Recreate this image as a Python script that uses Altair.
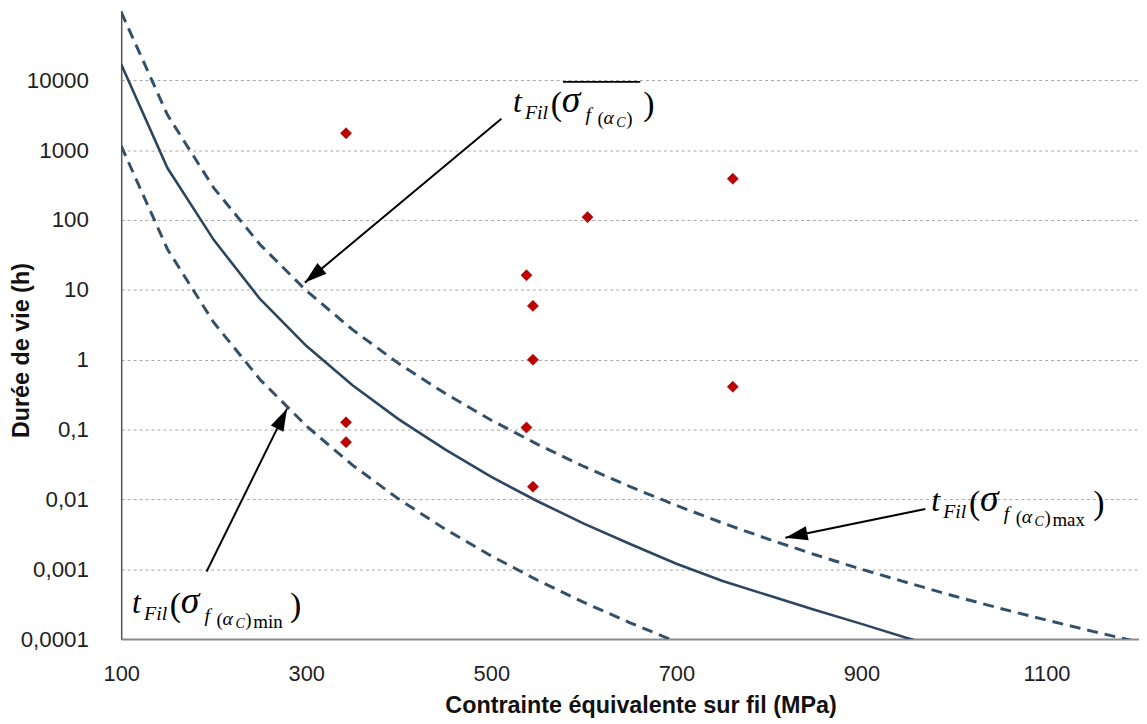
import math
import altair as alt
import pandas as pd

# ---------------- data ----------------
stress_mean = [100, 150, 200, 250, 300, 350, 400, 450, 500, 550, 600, 650, 700, 750, 800, 850, 900, 950, 1000]
life_mean = [17000, 555, 52, 7.4, 1.58, 0.43, 0.14, 0.052, 0.021, 0.0094, 0.0045, 0.0023,
             0.0012, 0.00068, 0.00042, 0.00026, 0.000165, 0.000103, 0.000066]

stress_max = [100, 150, 200, 250, 300, 350, 400, 450, 500, 550, 600, 650, 700, 750, 800, 850,
              900, 950, 1000, 1050, 1100, 1150, 1200]
life_max = [95000, 3200, 289, 44.7, 9.75, 2.69, 0.88, 0.33, 0.136, 0.0614, 0.0296, 0.0152,
            0.0082, 0.00459, 0.00268, 0.00161, 0.001, 0.00064, 0.000414, 0.000275, 0.000187,
            0.000129, 0.0000903]

stress_min = [100, 150, 200, 250, 300, 350, 400, 450, 500, 550, 600, 650, 700]
life_min = [1150, 38.2, 3.41, 0.522, 0.113, 0.0309, 0.0101, 0.00375, 0.00155, 0.000696,
            0.000335, 0.000171, 0.0000915]

obs_stress = [343, 343, 343, 538, 545, 545, 538, 545, 604, 761, 761]
obs_life = [1750, 0.127, 0.066, 16.2, 5.9, 1.0, 0.107, 0.0152, 110, 390, 0.41]

x_ticks = [100, 300, 500, 700, 900, 1100]
y_ticks = [0.0001, 0.001, 0.01, 0.1, 1, 10, 100, 1000, 10000]

# annotation anchors (data units): label baseline start, arrow start and arrow tip
ann_names = ["mean", "min", "max"]
ann_x = [523.5, 111.8, 975.5]
ann_t = [3550, 0.000234, 0.00683]
ann_sub = ["", "min", "max"]
arrow_x1 = [510.9, 192.3, 969.1]
arrow_t1 = [2825, 0.000927, 0.0073]
arrow_x2 = [298.5, 279.2, 817.8]
arrow_t2 = [12.7, 0.199, 0.00282]
overline_x = [577.5, 661.0]
overline_t = [9480]

# ---------------- layout ----------------
W, H = 1025, 633
XMIN, XMAX = 100, 1200
YMIN, YMAX = 1e-4, 1e5

xs = alt.Scale(domain=[XMIN, XMAX], nice=False, zero=False)
ys = alt.Scale(type="log", domain=[YMIN, YMAX], nice=False)


def px(x):
    return (x - XMIN) / (XMAX - XMIN) * W


def py(t):
    return H * (math.log10(YMAX) - math.log10(t)) / (math.log10(YMAX) - math.log10(YMIN))


LABEL_FONT = "Liberation Sans"
MATH_FONT = "Liberation Serif"

x_axis = alt.Axis(
    values=x_ticks, title="Contrainte équivalente sur fil (MPa)", ticks=False,
    labelPadding=25, labelFontSize=22, labelFont=LABEL_FONT, labelColor="#1e1e1e",
    labelFlush=False, format="d",
    domainColor="#8a8a8a", domainWidth=2, grid=False,
    titleFont=LABEL_FONT, titleFontSize=23.5, titleFontWeight="bold", titleColor="#111111",
    titleX=523, titleY=55, titleBaseline="top", titleAlign="center",
)
y_axis = alt.Axis(
    values=y_ticks, title="Durée de vie (h)", ticks=False,
    labelExpr="datum.value >= 1 ? format(datum.value, 'd') : replace(format(datum.value, '~g'), '.', ',')",
    labelPadding=33, labelFontSize=22.5, labelFont=LABEL_FONT, labelColor="#1e1e1e",
    labelOverlap=False,
    domainColor="#555555", domainWidth=1.5,
    grid=True, gridDash=[3, 3], gridColor="#a6a6a6", gridWidth=1,
    titleFont=LABEL_FONT, titleFontSize=23.5, titleFontWeight="bold", titleColor="#111111",
    titleAngle=270, titleX=-93, titleY=342, titleBaseline="alphabetic", titleAlign="center",
)

layers = []

# solid mean curve (carries the axes)
df_mean = pd.DataFrame({"stress": stress_mean, "life": life_mean})
layers.append(
    alt.Chart(df_mean).mark_line(color="#2c4660", strokeWidth=2.6, clip=True).encode(
        x=alt.X("stress:Q", scale=xs, axis=x_axis),
        y=alt.Y("life:Q", scale=ys, axis=y_axis),
    )
)

df_max = pd.DataFrame({"stress": stress_max, "life": life_max})
layers.append(
    alt.Chart(df_max).mark_line(color="#33506a", strokeWidth=3, strokeDash=[11, 7], clip=True).encode(
        x=alt.X("stress:Q", scale=xs, axis=x_axis),
        y=alt.Y("life:Q", scale=ys, axis=y_axis),
    )
)
df_min = pd.DataFrame({"stress": stress_min, "life": life_min})
layers.append(
    alt.Chart(df_min).mark_line(color="#33506a", strokeWidth=3, strokeDash=[11, 7], clip=True).encode(
        x=alt.X("stress:Q", scale=xs, axis=x_axis),
        y=alt.Y("life:Q", scale=ys, axis=y_axis),
    )
)

df_obs = pd.DataFrame({"stress": obs_stress, "life": obs_life})
layers.append(
    alt.Chart(df_obs).mark_point(shape="diamond", filled=True, size=125, color="#c00000",
                                 stroke="#8b0000", strokeWidth=0.6, opacity=1).encode(
        x=alt.X("stress:Q", scale=xs, axis=x_axis),
        y=alt.Y("life:Q", scale=ys, axis=y_axis),
    )
)

# arrows
df_arrows = pd.DataFrame({"stress": arrow_x1, "life": arrow_t1, "x2": arrow_x2, "t2": arrow_t2})
layers.append(
    alt.Chart(df_arrows).mark_rule(color="black", strokeWidth=2).encode(
        x=alt.X("stress:Q", scale=xs, axis=x_axis),
        y=alt.Y("life:Q", scale=ys, axis=y_axis),
        x2="x2:Q",
        y2="t2:Q",
    )
)
head_path = "M0,0L-0.38,1.2L0.38,1.2Z"
for i in range(len(ann_names)):
    ddx = px(arrow_x2[i]) - px(arrow_x1[i])
    ddy = py(arrow_t2[i]) - py(arrow_t1[i])
    ang = math.degrees(math.atan2(ddx, -ddy)) % 360
    d = pd.DataFrame({"stress": [arrow_x2[i]], "life": [arrow_t2[i]]})
    layers.append(
        alt.Chart(d).mark_point(shape=head_path, filled=True, size=1400, color="black",
                                opacity=1, angle=ang, strokeWidth=0).encode(
            x=alt.X("stress:Q", scale=xs, axis=x_axis),
            y=alt.Y("life:Q", scale=ys, axis=y_axis),
        )
    )


# math labels built from glyph pieces: (text, dx, dy, size, italic)
def pieces(sub):
    p = [
        ("t", 0, 0, 32, True),
        ("Fil", 12, 7, 20, True),
        ("(", 38, 3, 34, False),
        ("σ", 49, 0, 38, True),
        ("f", 73, 9, 20, True),
        ("(", 85, 13, 19, False),
        ("α", 91, 12, 20, True),
        ("C", 104, 15, 14, True),
        (")", 114, 13, 19, False),
    ]
    if sub == "":
        p.append((")", 131, 3, 34, False))
    else:
        p.append((sub, 122, 15, 19, False))
        p.append((")", 159 if sub == "min" else 163, 3, 34, False))
    return p


for i in range(len(ann_names)):
    d = pd.DataFrame({"stress": [ann_x[i]], "life": [ann_t[i]]})
    for (txt, dx, dy, size, italic) in pieces(ann_sub[i]):
        layers.append(
            alt.Chart(d).mark_text(
                text=txt, dx=dx, dy=dy, fontSize=size, font=MATH_FONT,
                fontStyle="italic" if italic else "normal",
                align="left", baseline="alphabetic", color="black",
            ).encode(
                x=alt.X("stress:Q", scale=xs, axis=x_axis),
                y=alt.Y("life:Q", scale=ys, axis=y_axis),
            )
        )

# overline of the mean label
df_ol = pd.DataFrame({"stress": [overline_x[0]], "x2": [overline_x[1]], "life": overline_t})
layers.append(
    alt.Chart(df_ol).mark_rule(color="black", strokeWidth=1.8).encode(
        x=alt.X("stress:Q", scale=xs, axis=x_axis),
        x2="x2:Q",
        y=alt.Y("life:Q", scale=ys, axis=y_axis),
    )
)

chart = alt.layer(*layers).properties(
    width=W, height=H,
    padding={"left": 114, "top": 0, "right": 0, "bottom": 83},
    autosize=alt.AutoSizeParams(type="none"),
    background="white",
).configure_view(stroke=None)

chart.save("out.html", embed_options={"renderer": "svg", "actions": False})
